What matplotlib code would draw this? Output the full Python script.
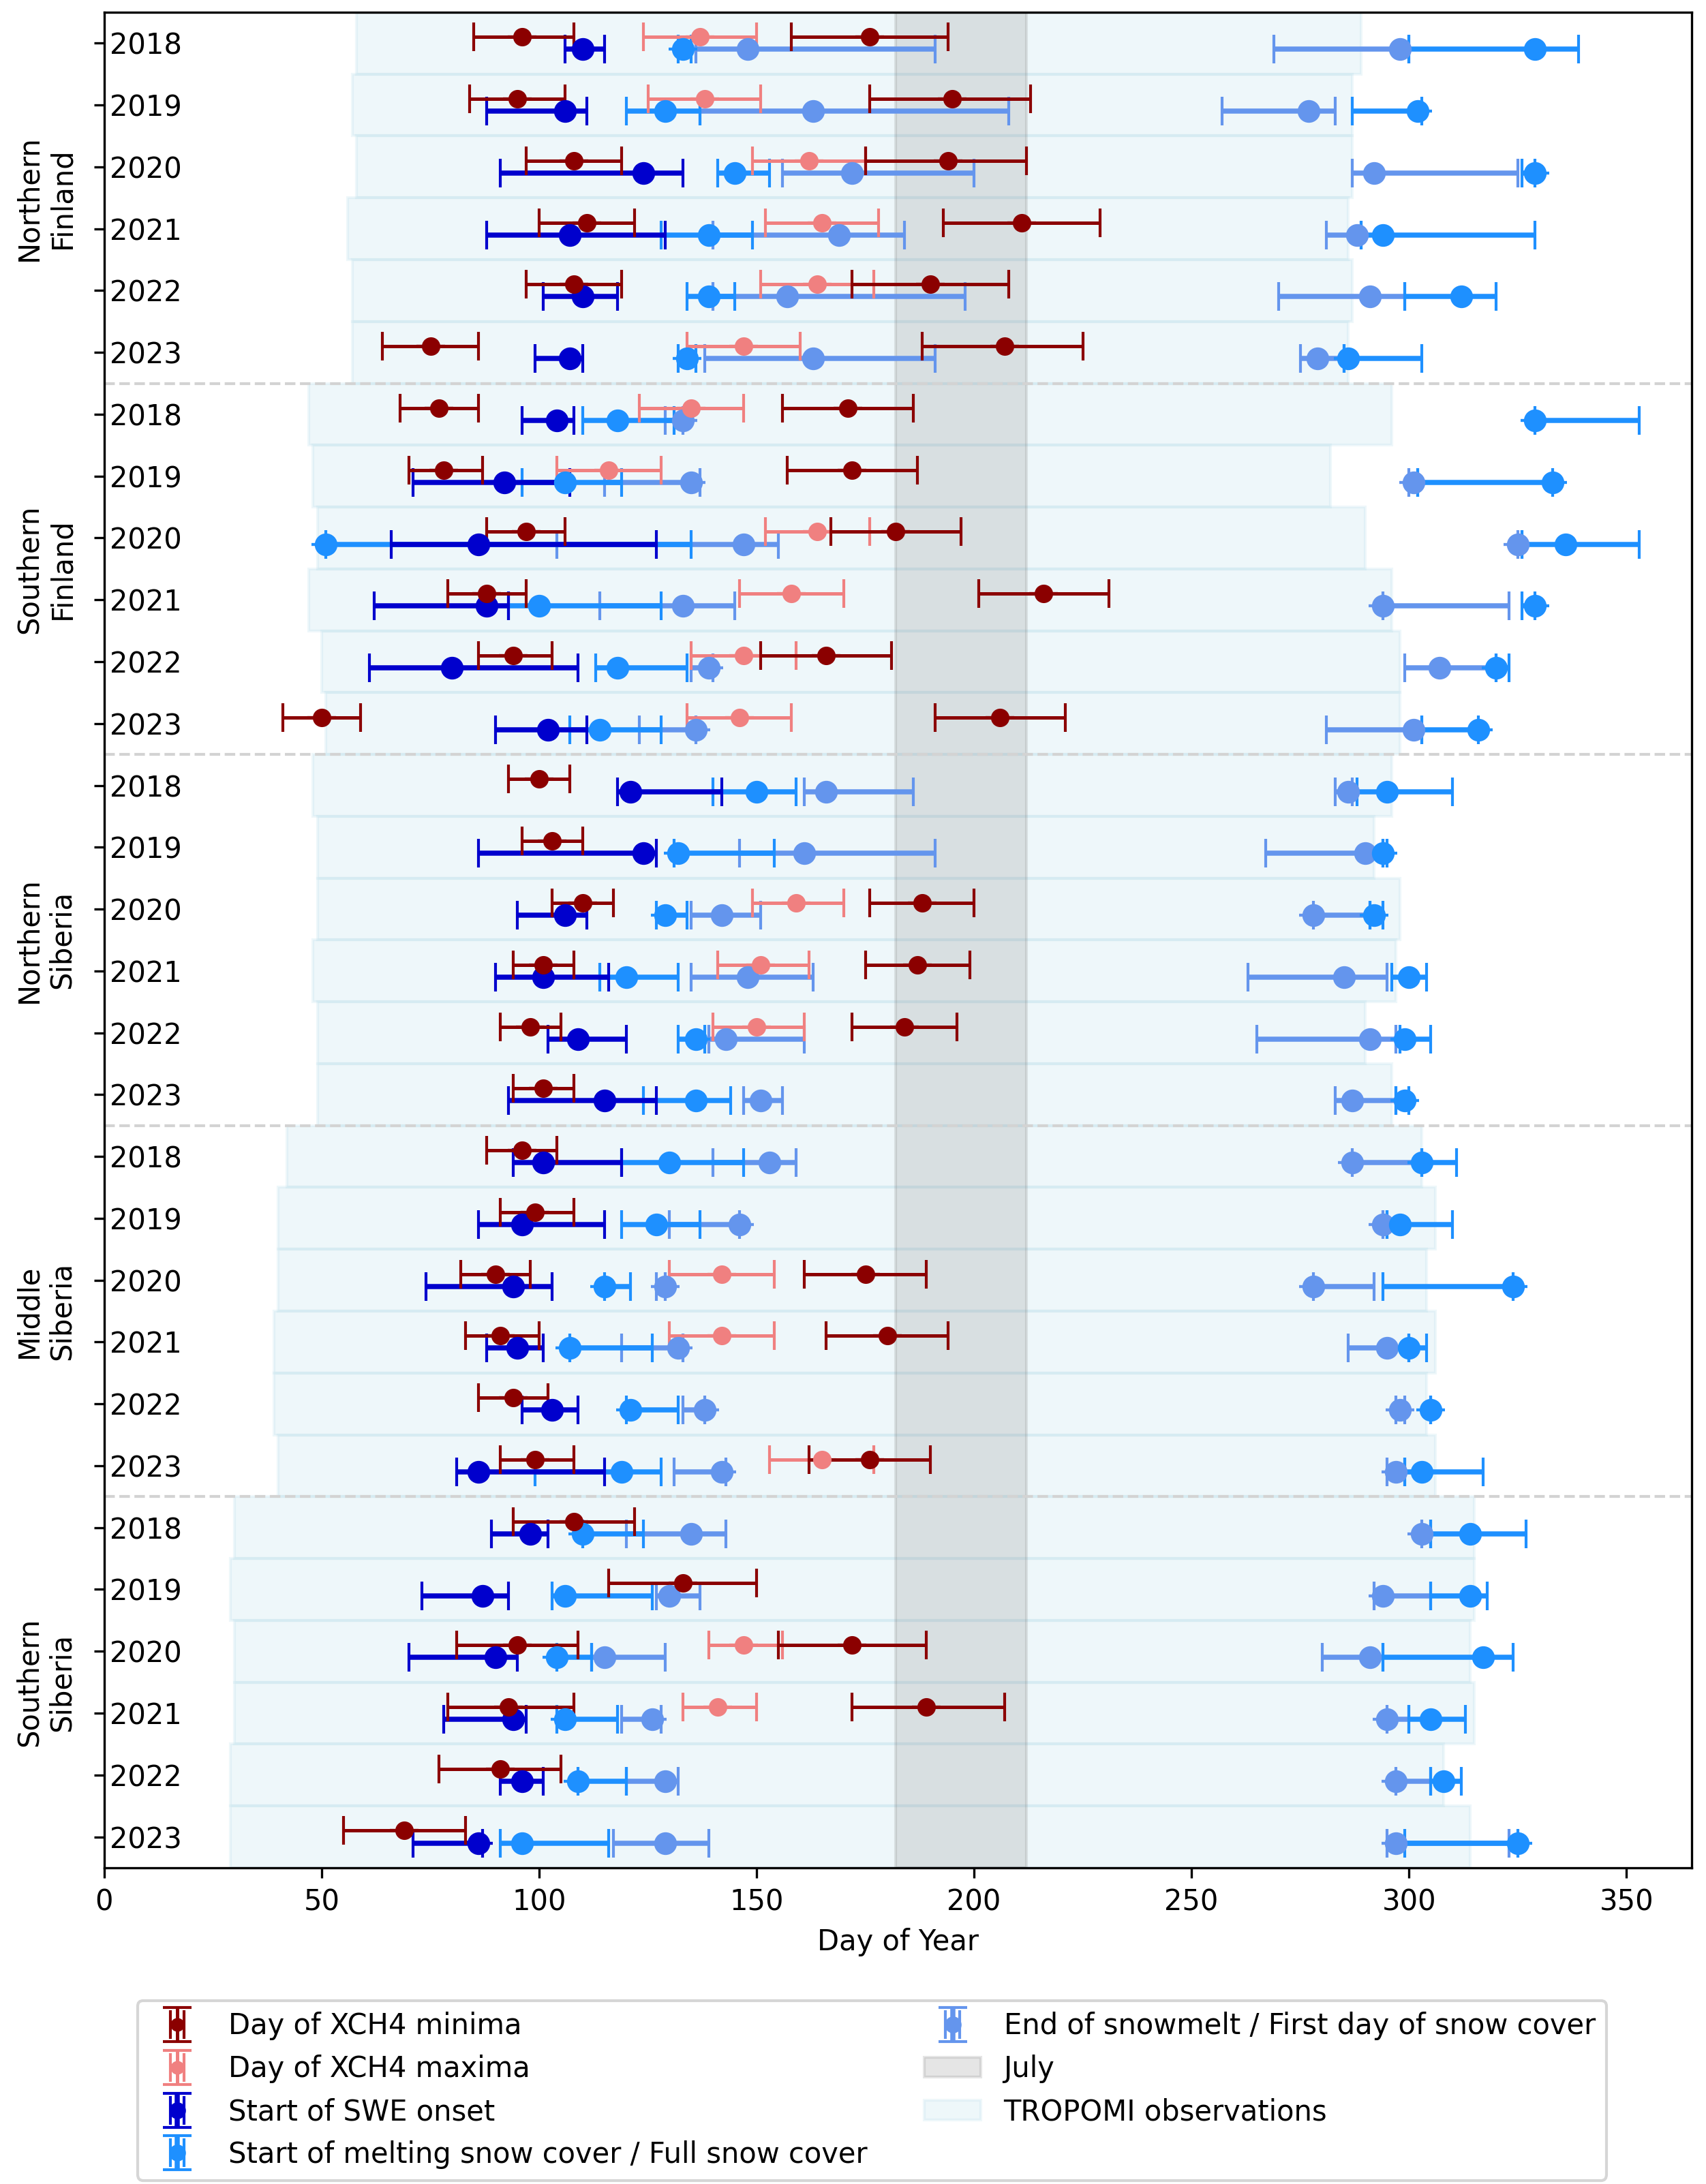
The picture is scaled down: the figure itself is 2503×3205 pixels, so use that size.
import numpy as np
import matplotlib
matplotlib.use("Agg")
import matplotlib.pyplot as plt
from matplotlib.container import ErrorbarContainer
from matplotlib.legend_handler import HandlerErrorbar

# rows: 5 regions x 6 years, top to bottom
REGIONS = ["Northern\nFinland", "Southern\nFinland", "Northern\nSiberia",
           "Middle\nSiberia", "Southern\nSiberia"]
YEARS = [2018, 2019, 2020, 2021, 2022, 2023]

# (day, lower, upper) per row, None where missing
CH4_MIN_SPRING = [
    (96, 85, 108), (95, 84, 106), (108, 97, 119), (111, 100, 122), (108, 97, 119), (75, 64, 86),
    (77, 68, 86), (78, 70, 87), (97, 88, 106), (88, 79, 97), (94, 86, 103), (50, 41, 59),
    (100, 93, 107), (103, 96, 110), (110, 103, 117), (101, 94, 108), (98, 91, 105), (101, 94, 108),
    (96, 88, 104), (99, 91, 108), (90, 82, 98), (91, 83, 100), (94, 86, 102), (99, 91, 108),
    (108, 94, 122), (133, 116, 150), (95, 81, 109), (93, 79, 108), (91, 77, 105), (69, 55, 83),
]
CH4_MIN_SUMMER = [
    (176, 158, 194), (195, 176, 213), (194, 175, 212), (211, 193, 229), (190, 172, 208), (207, 188, 225),
    (171, 156, 186), (172, 157, 187), (182, 167, 197), (216, 201, 231), (166, 151, 181), (206, 191, 221),
    None, None, (188, 176, 200), (187, 175, 199), (184, 172, 196), None,
    None, None, (175, 161, 189), (180, 166, 194), None, (176, 162, 190),
    None, None, (172, 155, 189), (189, 172, 207), None, None,
]
CH4_MAX = [
    (137, 124, 150), (138, 125, 151), (162, 149, 175), (165, 152, 178), (164, 151, 177), (147, 134, 160),
    (135, 123, 147), (116, 104, 128), (164, 152, 176), (158, 146, 170), (147, 135, 159), (146, 134, 158),
    None, None, (159, 149, 170), (151, 141, 162), (150, 140, 161), None,
    None, None, (142, 130, 154), (142, 130, 154), None, (165, 153, 177),
    None, None, (147, 139, 156), (141, 133, 150), None, None,
]
SWE_ONSET = [
    (110, 106, 115), (106, 88, 111), (124, 91, 133), (107, 88, 129), (110, 101, 118), (107, 99, 110),
    (104, 96, 108), (92, 71, 107), (86, 66, 127), (88, 62, 93), (80, 61, 109), (102, 90, 111),
    (121, 118, 142), (124, 86, 127), (106, 95, 111), (101, 90, 116), (109, 102, 120), (115, 93, 127),
    (101, 94, 119), (96, 86, 115), (94, 74, 103), (95, 88, 101), (103, 96, 109), (86, 81, 115),
    (98, 89, 102), (87, 73, 93), (90, 70, 95), (94, 78, 97), (96, 91, 101), (86, 71, 87),
]
MELT_START = [
    (133, 132, 135), (129, 120, 137), (145, 141, 153), (139, 128, 149), (139, 134, 145), (134, 132, 136),
    (118, 110, 131), (106, 96, 119), (51, 51, 135), (100, 93, 128), (118, 113, 134), (114, 107, 128),
    (150, 140, 159), (132, 131, 154), (129, 127, 134), (120, 114, 132), (136, 132, 138), (136, 124, 144),
    (130, 119, 147), (127, 119, 137), (115, 115, 121), (107, 107, 126), (121, 120, 132), (119, 99, 128),
    (110, 110, 124), (106, 103, 126), (104, 104, 112), (106, 104, 118), (109, 109, 120), (96, 91, 116),
]
SNOWMELT_END = [
    (148, 136, 191), (163, 137, 208), (172, 156, 200), (169, 140, 184), (157, 140, 198), (163, 138, 191),
    (133, 129, 133), (135, 115, 137), (147, 104, 155), (133, 114, 145), (139, 135, 140), (136, 123, 136),
    (166, 161, 186), (161, 146, 191), (142, 135, 151), (148, 135, 163), (143, 139, 161), (151, 147, 156),
    (153, 140, 159), (146, 130, 146), (129, 127, 129), (132, 119, 133), (138, 133, 138), (142, 131, 143),
    (135, 120, 143), (130, 127, 137), (115, 112, 129), (126, 119, 128), (129, 120, 132), (129, 117, 139),
]
FULL_SNOW = [
    (329, 300, 339), (302, 287, 303), (329, 326, 329), (294, 289, 329), (312, 299, 320), (286, 285, 303),
    (329, 329, 353), (333, 302, 333), (336, 326, 353), (329, 326, 329), (320, 320, 323), (316, 303, 316),
    (295, 288, 310), (294, 294, 295), (292, 291, 294), (300, 296, 304), (299, 298, 305), (299, 297, 300),
    (303, 303, 311), (298, 295, 310), (324, 294, 324), (300, 300, 304), (305, 305, 305), (303, 299, 317),
    (314, 305, 327), (314, 305, 318), (317, 294, 324), (305, 300, 313), (308, 305, 312), (325, 299, 325),
]
FIRST_SNOW = [
    (298, 269, 300), (277, 257, 283), (292, 287, 325), (288, 281, 289), (291, 270, 299), (279, 275, 285),
    None, (301, 300, 302), (325, 325, 326), (294, 294, 323), (307, 299, 320), (301, 281, 303),
    (286, 283, 287), (290, 267, 294), (278, 278, 291), (285, 263, 295), (291, 265, 297), (287, 283, 297),
    (287, 287, 303), (294, 294, 295), (278, 278, 292), (295, 286, 300), (298, 297, 299), (297, 295, 299),
    (303, 303, 305), (294, 292, 305), (291, 280, 294), (295, 295, 300), (297, 297, 305), (297, 295, 323),
]
TROPOMI_START = [58, 57, 58, 56, 57, 57,
                 47, 48, 49, 47, 50, 51,
                 48, 49, 49, 48, 49, 49,
                 42, 40, 40, 39, 39, 40,
                 30, 29, 30, 30, 29, 29]
TROPOMI_END = [289, 287, 287, 286, 287, 286,
               296, 282, 290, 296, 298, 298,
               296, 292, 298, 297, 290, 296,
               303, 306, 304, 306, 304, 306,
               315, 315, 314, 315, 308, 314]
JULY = (182, 212)


def split(series, offset):
    rows = [i for i, v in enumerate(series) if v is not None]
    vals = np.array([series[i] for i in rows], dtype=float)
    day, lo, hi = vals[:, 0], vals[:, 1], vals[:, 2]
    err = [np.maximum(day - lo, 0), np.maximum(hi - day, 0)]
    return day, np.array(rows) + offset, err


def draw(ax, parts, color, ms, lw, label):
    day = np.concatenate([p[0] for p in parts])
    y = np.concatenate([p[1] for p in parts])
    lo = np.concatenate([p[2][0] for p in parts])
    hi = np.concatenate([p[2][1] for p in parts])
    return ax.errorbar(day, y, xerr=[lo, hi], yerr=0, fmt='o', color=color,
                       ms=ms, elinewidth=lw, capsize=5, capthick=1, label=label)


n_rows = len(REGIONS) * len(YEARS)
rows = np.arange(n_rows)

fig = plt.figure(figsize=(2504 / 300, 3205 / 300), dpi=300)
ax = fig.add_axes([0.0611, 0.1448, 0.9301, 0.8496])

tropomi = ax.barh(rows, np.array(TROPOMI_END) - np.array(TROPOMI_START), left=TROPOMI_START,
                  height=1.0, color='lightblue', edgecolor='lightblue', alpha=0.2,
                  label='TROPOMI observations', zorder=0)
july = ax.axvspan(*JULY, color='gray', alpha=0.2, label='July', zorder=0.5)

up, down = -0.1, 0.1
h_end = draw(ax, [split(SNOWMELT_END, down), split(FIRST_SNOW, down)], 'cornflowerblue', 7, 1.8,
             'End of snowmelt / First day of snow cover')
h_melt = draw(ax, [split(MELT_START, down), split(FULL_SNOW, down)], 'dodgerblue', 7, 1.8,
              'Start of melting snow cover / Full snow cover')
h_swe = draw(ax, [split(SWE_ONSET, down)], 'mediumblue', 7, 1.8, 'Start of SWE onset')
h_max = draw(ax, [split(CH4_MAX, up)], 'lightcoral', 5.5, 1.2, 'Day of XCH4 maxima')
h_min = draw(ax, [split(CH4_MIN_SPRING, up), split(CH4_MIN_SUMMER, up)], 'darkred', 5.5, 1.2,
             'Day of XCH4 minima')

for k in range(1, len(REGIONS)):
    ax.axhline(k * len(YEARS) - 0.5, color='lightgray', linestyle='--', linewidth=1)

ax.set_yticks(rows)
ax.set_yticklabels([str(y) for _ in REGIONS for y in YEARS], ha='left')
ax.tick_params(axis='y', pad=-5.5)
for k, name in enumerate(REGIONS):
    ax.text(-0.037, k * len(YEARS) + 2.5, name, transform=ax.get_yaxis_transform(),
            rotation=90, ha='center', va='center', multialignment='center')

ax.set_xlim(0, 365)
ax.set_ylim(n_rows - 0.5, -0.5)
ax.set_xticks(np.arange(0, 351, 50))
ax.set_xlabel('Day of Year')

handles = [h_min, h_max, h_swe, h_melt, h_end, july, tropomi]
fig.legend(handles, [h.get_label() for h in handles], loc='upper center',
           bbox_to_anchor=(0.511, 0.0905), ncol=2, markerscale=0.7,
           handler_map={ErrorbarContainer: HandlerErrorbar(xerr_size=0.25, yerr_size=0.6)})

fig.savefig('out.png', dpi=300)
